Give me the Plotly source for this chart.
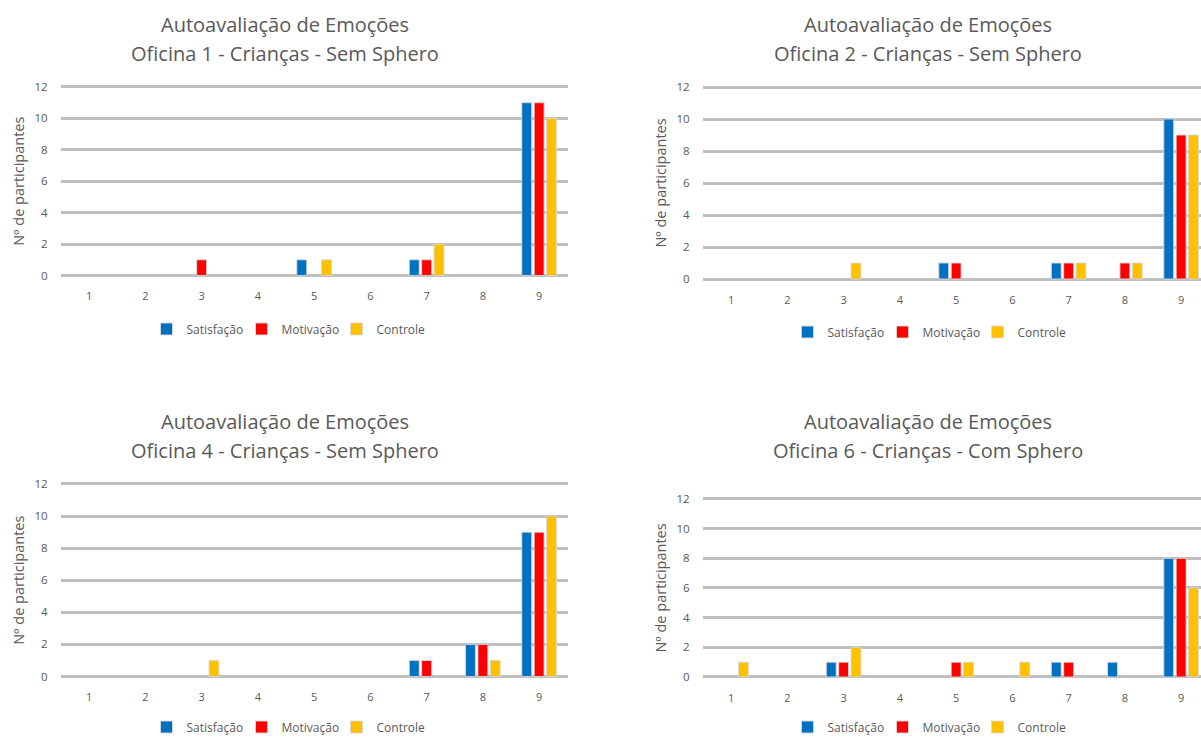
import plotly.graph_objects as go

# ---------------- data ----------------
categories = [1, 2, 3, 4, 5, 6, 7, 8, 9]
series_names = ["Satisfação", "Motivação", "Controle"]
series_colors = ["#0070C0", "#FF0000", "#FFC000"]
y_ticks = [0, 2, 4, 6, 8, 10, 12]

of1_satisfacao = [0, 0, 0, 0, 1, 0, 1, 0, 11]
of1_motivacao = [0, 0, 1, 0, 0, 0, 1, 0, 11]
of1_controle = [0, 0, 0, 0, 1, 0, 2, 0, 10]

of2_satisfacao = [0, 0, 0, 0, 1, 0, 1, 0, 10]
of2_motivacao = [0, 0, 0, 0, 1, 0, 1, 1, 9]
of2_controle = [0, 0, 1, 0, 0, 0, 1, 1, 9]

of4_satisfacao = [0, 0, 0, 0, 0, 0, 1, 2, 9]
of4_motivacao = [0, 0, 0, 0, 0, 0, 1, 2, 9]
of4_controle = [0, 0, 1, 0, 0, 0, 0, 1, 10]

of6_satisfacao = [0, 0, 1, 0, 0, 0, 1, 1, 8]
of6_motivacao = [0, 0, 1, 0, 1, 0, 1, 0, 8]
of6_controle = [1, 0, 2, 0, 1, 1, 0, 0, 6]

title_line1 = "Autoavaliação de Emoções"
subtitles = [
    "Oficina 1 - Crianças - Sem Sphero",
    "Oficina 2 - Crianças - Sem Sphero",
    "Oficina 4 - Crianças - Sem Sphero",
    "Oficina 6 - Crianças - Com Sphero",
]
y_title = "Nº de participantes"

panel_data = [
    [of1_satisfacao, of1_motivacao, of1_controle],
    [of2_satisfacao, of2_motivacao, of2_controle],
    [of4_satisfacao, of4_motivacao, of4_controle],
    [of6_satisfacao, of6_motivacao, of6_controle],
]

# ---------------- layout geometry (pixels) ----------------
W, H = 1201, 737
CAT_PX = 56.25
panels = [
    dict(x0=61, x1=568, y12=87, y0=275.5, tx=285, t1=25, t2=53, lx=289, ly=329),
    dict(x0=703, x1=1201, y12=87, y0=279, tx=928, t1=25, t2=53, lx=930, ly=332),
    dict(x0=61, x1=568, y12=484, y0=676.5, tx=285, t1=422, t2=450, lx=289, ly=727),
    dict(x0=703, x1=1201, y12=499, y0=677, tx=928, t1=422, t2=450, lx=930, ly=727),
]

TEXT = "#595959"
GRID = "#BFBFBF"
FONT = "Open Sans"

fig = go.Figure()
layout = dict(
    width=W, height=H,
    margin=dict(l=0, r=0, t=0, b=0, autoexpand=False),
    paper_bgcolor="white", plot_bgcolor="white",
    barmode="group", bargap=0.34, bargroupgap=0.2,
    font=dict(family=FONT, color=TEXT),
    annotations=[],
)

pad = 0.1
for i, (p, data) in enumerate(zip(panels, panel_data)):
    n = i + 1
    xa = "x" if n == 1 else f"x{n}"
    ya = "y" if n == 1 else f"y{n}"
    lg = "legend" if n == 1 else f"legend{n}"
    for name, color, vals in zip(series_names, series_colors, data):
        fig.add_trace(go.Bar(
            x=categories,
            y=[v if v != 0 else None for v in vals],
            name=name,
            marker=dict(color=color, line=dict(color="rgba(215,215,215,0.9)", width=1)),
            xaxis=xa, yaxis=ya, legend=lg,
        ))
    ppu = (p["y0"] - p["y12"]) / 12.0
    top_px = p["y12"] - pad * ppu
    bot_px = p["y0"] + pad * ppu
    xr_end = 0.5 + (p["x1"] - p["x0"]) / CAT_PX
    layout["xaxis" if n == 1 else f"xaxis{n}"] = dict(
        domain=[p["x0"] / W, p["x1"] / W],
        range=[0.5, xr_end],
        anchor=ya,
        tickmode="array", tickvals=categories,
        ticktext=[str(c) for c in categories],
        showgrid=False, zeroline=False, showline=False,
        ticks="outside", ticklen=9, tickcolor="rgba(0,0,0,0)",
        tickfont=dict(size=11, color=TEXT, family=FONT),
        fixedrange=True,
    )
    layout["yaxis" if n == 1 else f"yaxis{n}"] = dict(
        domain=[1 - bot_px / H, 1 - top_px / H],
        range=[-pad, 12 + pad],
        anchor=xa,
        tickmode="array", tickvals=y_ticks,
        showgrid=True, gridcolor=GRID, gridwidth=3,
        zeroline=True, zerolinecolor=GRID, zerolinewidth=3,
        showline=False,
        ticks="outside", ticklen=10, tickcolor="rgba(0,0,0,0)",
        tickfont=dict(size=11.5, color=TEXT, family=FONT),
        title=dict(text=y_title, font=dict(size=14.5, color=TEXT, family=FONT), standoff=6),
        fixedrange=True,
    )
    layout[lg] = dict(
        orientation="h",
        x=p["lx"] / W, xanchor="center",
        y=1 - p["ly"] / H, yanchor="middle",
        font=dict(size=12, color=TEXT, family=FONT),
        bgcolor="rgba(0,0,0,0)",
        itemwidth=30,
        entrywidth=50,
        traceorder="normal",
    )
    layout["annotations"].append(dict(
        text=title_line1, x=p["tx"] / W, y=1 - p["t1"] / H,
        xref="paper", yref="paper", xanchor="center", yanchor="middle",
        showarrow=False, font=dict(size=20, color=TEXT, family=FONT),
    ))
    layout["annotations"].append(dict(
        text=subtitles[i], x=p["tx"] / W, y=1 - p["t2"] / H,
        xref="paper", yref="paper", xanchor="center", yanchor="middle",
        showarrow=False, font=dict(size=20, color=TEXT, family=FONT),
    ))

fig.update_layout(**layout)
fig.write_html(
    "out.html",
    config={"displayModeBar": False},
    post_script="document.body.style.margin='0';document.body.style.overflow='hidden';",
)
